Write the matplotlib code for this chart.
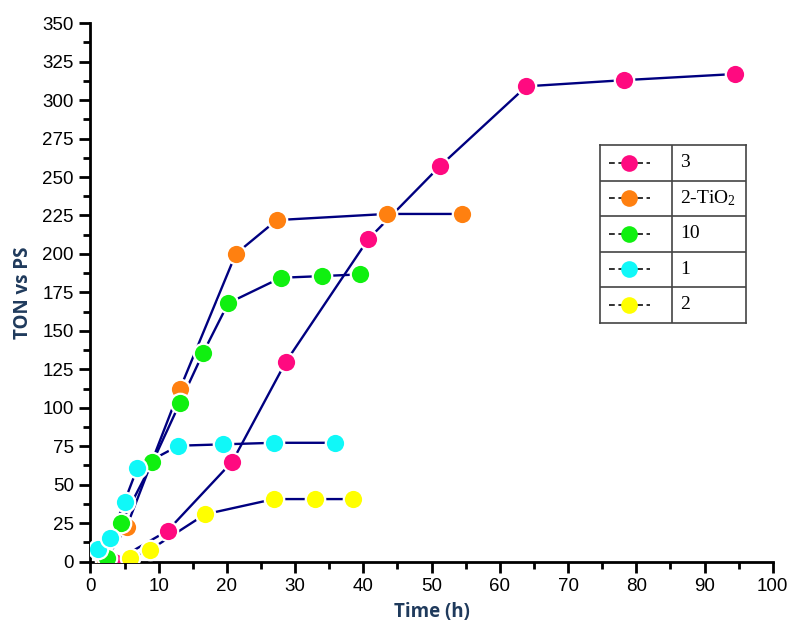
import matplotlib
matplotlib.use("Agg")
import matplotlib.pyplot as plt
from matplotlib.ticker import MultipleLocator

plt.rcParams['font.family'] = ['Liberation Sans', 'DejaVu Sans']
plt.rcParams['mathtext.fontset'] = 'custom'
plt.rcParams['mathtext.rm'] = 'Liberation Serif'
plt.rcParams['mathtext.it'] = 'Liberation Serif:italic'

labels = ['3', '2-TiO$_2$', '10', '1', '2']
colors = ['#FF0A80', '#FF8010', '#10F010', '#10F8F8', '#FFFF00']

x_3 = [3.5, 11.3, 20.8, 28.6, 40.7, 51.2, 63.9, 78.2, 94.5]
y_3 = [0, 20, 65, 129.5, 209.5, 257, 309, 313, 317]
x_2tio2 = [2.2, 5.3, 13.1, 21.3, 27.3, 43.4, 54.4]
y_2tio2 = [1, 22.5, 112, 200, 222, 226, 226]
x_10 = [2.4, 4.5, 9.1, 13.1, 16.5, 20.2, 27.9, 33.9, 39.5]
y_10 = [2.5, 25, 64.5, 103, 135.5, 168, 184.5, 185.6, 186.7]
x_1 = [1.1, 2.9, 5.0, 6.9, 12.9, 19.5, 26.9, 35.9]
y_1 = [8, 15, 39, 61, 75.3, 76.2, 77.2, 77.2]
x_2 = [5.8, 8.7, 16.8, 26.9, 32.9, 38.5]
y_2 = [2.5, 7.5, 30.7, 40.6, 40.6, 40.6]

series = [(x_3, y_3), (x_2tio2, y_2tio2), (x_10, y_10), (x_1, y_1), (x_2, y_2)]

fig = plt.figure(figsize=(8.0, 6.37), dpi=100)
ax = fig.add_axes([0.113, 0.1185, 0.853, 0.845])

line_col = '#000080'
zorders = [3, 4, 5, 6, 7]
for i in range(5):
    xs, ys = series[i]
    ax.plot(xs, ys, color=line_col, lw=1.7, zorder=2)
for i in range(5):
    xs, ys = series[i]
    ax.plot(xs, ys, ls='none', marker='o', ms=14, mfc=colors[i],
            mec='white', mew=1.6, zorder=zorders[i])

ax.set_xlim(0, 100)
ax.set_ylim(0, 350)
ax.xaxis.set_major_locator(MultipleLocator(10))
ax.xaxis.set_minor_locator(MultipleLocator(5))
ax.yaxis.set_major_locator(MultipleLocator(25))
ax.yaxis.set_minor_locator(MultipleLocator(12.5))
for s in ['top', 'right']:
    ax.spines[s].set_visible(False)
for s in ['left', 'bottom']:
    ax.spines[s].set_linewidth(2)
ax.tick_params(which='major', direction='out', length=8, width=2, labelsize=13.5, pad=4)
ax.tick_params(which='minor', direction='out', length=5, width=2)

lab_col = '#1F3A5C'
ax.set_xlabel('Time (h)', fontsize=13.5, fontweight='bold', color=lab_col,
              family=['Open Sans', 'DejaVu Sans'], labelpad=5)
ax.set_ylabel('TON vs PS', fontsize=13.5, fontweight='bold', color=lab_col,
              family=['Open Sans', 'DejaVu Sans'], labelpad=7)

# table-style legend
lax = fig.add_axes([0.75, 0.4934, 0.182, 0.279])
lax.set_xlim(0, 1)
lax.set_ylim(0, 5)
lax.set_xticks([])
lax.set_yticks([])
for s in lax.spines.values():
    s.set_linewidth(1.2)
    s.set_color('#444444')
lax.axvline(0.492, color='#444444', lw=1.2)
for k in range(1, 5):
    lax.axhline(k, color='#444444', lw=1.2)
for i, lab in enumerate(labels):
    yc = 4.5 - i
    lax.plot([0.06, 0.34], [yc, yc], ls=(0, (3.2, 2.0)), color='#222222', lw=1.3)
    lax.plot([0.2], [yc], marker='o', ms=12, mfc=colors[i], mec='none', ls='none')
    lax.text(0.55, yc, lab, va='center', ha='left', fontsize=14,
             family=['Liberation Serif', 'DejaVu Serif'])

fig.savefig('out.png', dpi=100)
